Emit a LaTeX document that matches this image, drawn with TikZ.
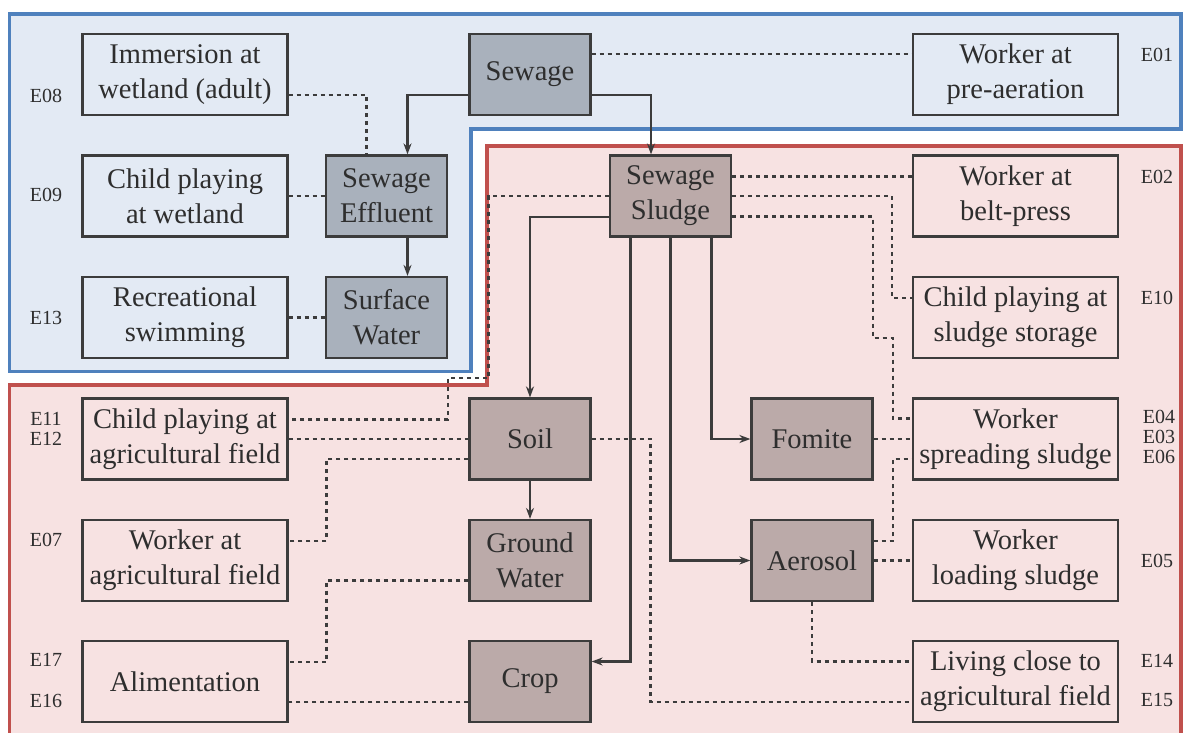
\documentclass[tikz,border=0pt]{standalone}
\usepackage{fontspec}
\setmainfont{Liberation Serif}
\usetikzlibrary{arrows.meta,calc}
\definecolor{bluebg}{HTML}{E3EAF4}
\definecolor{redbg}{HTML}{F7E2E2}
\definecolor{blueframe}{HTML}{4F81BD}
\definecolor{redframe}{HTML}{C0504D}
\definecolor{procblue}{HTML}{A9B1BC}
\definecolor{procred}{HTML}{BBAAA9}
\definecolor{edge}{HTML}{3C3C3C}
\definecolor{txt}{HTML}{2E2E2E}
\begin{document}
\begin{tikzpicture}[x=1pt,y=-1pt,
  every node/.style={text=txt},
  exbox/.style={draw=edge, line width=2.2pt, minimum width=205pt, minimum height=81pt, inner sep=0pt, align=center, font=\fontsize{28.5}{35}\selectfont},
  procb/.style={exbox, minimum width=121pt, fill=procblue},
  procr/.style={exbox, minimum width=121pt, fill=procred},
  elab/.style={font=\fontsize{20}{20}\selectfont, inner sep=0pt},
  flow/.style={draw=edge, line width=2.2pt, -{Stealth[length=11pt,width=8pt]}},
  expo/.style={draw=edge, line width=2.4pt, dash pattern=on 4pt off 4pt},
]
\useasboundingbox (0,0) rectangle (1184,732);
\fill[white] (0,0) rectangle (1184,732);
\clip (0,0) rectangle (1184,732);
% regions
\draw[blueframe, line width=3.5pt, fill=bluebg] (9.5,14) -- (1181,14) -- (1181,129) -- (471,129) -- (471,371.5) -- (9.5,371.5) -- cycle;
\draw[redframe, line width=3.5pt, fill=redbg] (487,146) -- (1181,146) -- (1181,745) -- (9.5,745) -- (9.5,385) -- (487,385) -- cycle;
% nodes
\node[exbox] (imm) at (185,74.5) {Immersion at\\wetland (adult)};
\node[procb] (sew) at (530,74.5) {Sewage};
\node[exbox] (wpa) at (1015.5,74.5) {Worker at\\pre-aeration};
\node[exbox] (cpw) at (185,196) {Child playing\\at wetland};
\node[procb] (eff) at (386.5,196) {Sewage\\Effluent};
\node[exbox] (rec) at (185,317.5) {Recreational\\swimming};
\node[procb] (sw) at (386.5,317.5) {Surface\\Water};
\node[procr] (sld) at (670.5,196) {Sewage\\Sludge};
\node[exbox] (wbp) at (1015.5,196) {Worker at\\belt-press};
\node[exbox] (cps) at (1015.5,317.5) {Child playing at\\sludge storage};
\node[exbox] (cpa) at (185,439) {Child playing at\\agricultural field};
\node[procr] (soil) at (530,439) {Soil};
\node[procr] (fom) at (812,439) {Fomite};
\node[exbox] (wss) at (1015.5,439) {Worker\\spreading sludge};
\node[exbox] (waf) at (185,560.5) {Worker at\\agricultural field};
\node[procr] (gw) at (530,560.5) {Ground\\Water};
\node[procr] (aer) at (812,560.5) {Aerosol};
\node[exbox] (wls) at (1015.5,560.5) {Worker\\loading sludge};
\node[exbox] (ali) at (185,681.5) {Alimentation};
\node[procr] (crop) at (530,681.5) {Crop};
\node[exbox] (lca) at (1015.5,681.5) {Living close to\\agricultural field};
% E labels
\node[elab] (e08) at (46,96) {E08};
\node[elab] (e09) at (46,195) {E09};
\node[elab] (e13) at (46,318) {E13};
\node[elab] (e11) at (46,418.5) {E11};
\node[elab] (e12) at (46,439) {E12};
\node[elab] (e07) at (46,540) {E07};
\node[elab] (e17) at (46,660) {E17};
\node[elab] (e16) at (46,701) {E16};
\node[elab] (e01) at (1157,55) {E01};
\node[elab] (e02) at (1157,177) {E02};
\node[elab] (e10) at (1157,298) {E10};
\node[elab] (e04) at (1159,417) {E04};
\node[elab] (e03) at (1159,437) {E03};
\node[elab] (e06) at (1159,457) {E06};
\node[elab] (e05) at (1157,561) {E05};
\node[elab] (e14) at (1157,661) {E14};
\node[elab] (e15) at (1157,700) {E15};
% solid flows
\draw[flow] ([yshift=-20.5pt]sew.west) -| ([xshift=21pt]eff.north);
\draw[flow] ([yshift=-20.5pt]sew.east) -| ([xshift=-19.5pt]sld.north);
\draw[flow] ([xshift=21pt]eff.south) -- ([xshift=21pt]sw.north);
\draw[flow] ([yshift=-21pt]sld.west) -| (soil.north);
\draw[flow] ([xshift=-40pt]sld.south) |- ([yshift=20pt]crop.east);
\draw[flow] (sld.south) |- (aer.west);
\draw[flow] ([xshift=41pt]sld.south) |- (fom.west);
\draw[flow] (soil.south) -- (gw.north);
% exposure (dashed)
\draw[expo] ([yshift=-20.5pt]imm.east) -| ([xshift=-20pt]eff.north);
\draw[expo] (cpw.east) -- (eff.west);
\draw[expo] (rec.east) -- (sw.west);
\draw[expo] ([yshift=20.5pt]sew.east) -- ([yshift=20.5pt]wpa.west);
\draw[expo] ([yshift=19.5pt]sld.east) -- ([yshift=19.5pt]wbp.west);
\draw[expo] (sld.east) -| ([xshift=-20pt,yshift=19.5pt]cps.west) -- ([yshift=19.5pt]cps.west);
\draw[expo] ([yshift=-20.5pt]sld.east) -- (873,216.5) -- (873,338) -- (893,338) |- ([yshift=20.5pt]wss.west);
\draw[expo] (sld.west) -- (488.5,196) -- (488.5,378) -- (448,378) |- ([yshift=19.5pt]cpa.east);
\draw[expo] (cpa.east) -- (soil.west);
\draw[expo] ([yshift=-20pt]soil.west) -- (326.5,459) |- ([yshift=19.5pt]waf.east);
\draw[expo] ([yshift=-20pt]gw.west) -- (326.5,580.5) |- ([yshift=19.5pt]ali.east);
\draw[expo] ([yshift=-20.5pt]crop.west) -- ([yshift=-20.5pt]ali.east);
\draw[expo] (soil.east) -- (650.5,439) |- ([yshift=-20.5pt]lca.west);
\draw[expo] (fom.east) -- (wss.west);
\draw[expo] ([yshift=19.5pt]aer.east) -- (893,541) |- ([yshift=-20pt]wss.west);
\draw[expo] (aer.east) -- (wls.west);
\draw[expo] (aer.south) |- ([yshift=20pt]lca.west);
\end{tikzpicture}
\end{document}
